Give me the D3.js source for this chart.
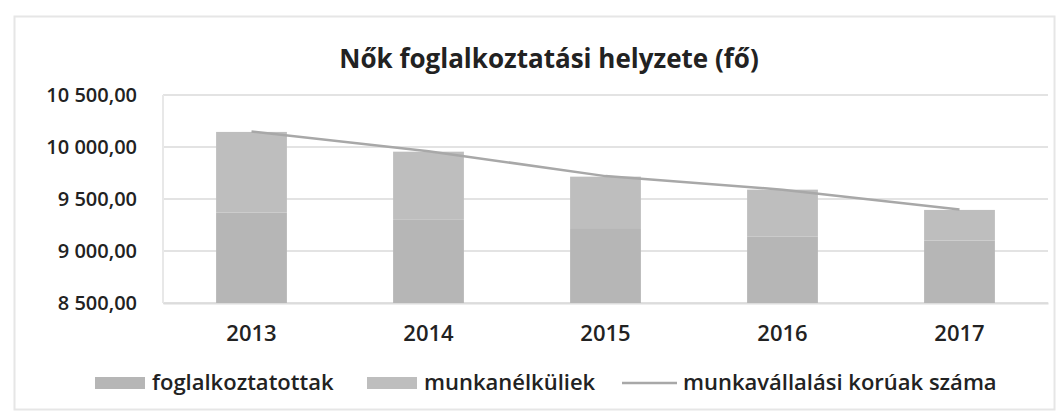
<!DOCTYPE html>
<html>
<head>
<meta charset="utf-8">
<script src="https://cdn.jsdelivr.net/npm/d3@7"></script>
<style>
  html, body { margin: 0; padding: 0; background: #fff; }
  svg { display: block; font-family: "Open Sans", "Noto Sans", sans-serif; }
</style>
</head>
<body>
<svg id="chart" width="1063" height="419"></svg>
<script>
// Adatok
const evek = ['2013', '2014', '2015', '2016', '2017'];
const foglalkoztatottak = [9370, 9300, 9220, 9140, 9100];
const munkanelkuliek = [775, 655, 495, 450, 295];
const munkavallalasiKoruak = [10150, 9960, 9720, 9590, 9400];
const yTicks = [8500, 9000, 9500, 10000, 10500];

const szinek = {
    foglalkoztatottak: '#b6b6b6',
    munkanelkuliek: '#bebebe',
    vonal: '#a8a8a8'
};

const svg = d3.select('#chart');
const margin = { top: 95, right: 15, bottom: 116, left: 163 };
const width = 1063 - margin.left - margin.right;
const height = 419 - margin.top - margin.bottom;

// Keret
svg.append('rect')
    .attr('x', 14.5).attr('y', 16.5)
    .attr('width', 1040).attr('height', 393)
    .attr('fill', 'none')
    .attr('stroke', '#e6e6e6')
    .attr('stroke-width', 2);

// Cim
svg.append('text')
    .attr('x', 549)
    .attr('y', 68)
    .attr('text-anchor', 'middle')
    .style('font-size', '26px')
    .style('font-weight', '700')
    .style('fill', '#222')
    .text('Nők foglalkoztatási helyzete (fő)');

const g = svg.append('g')
    .attr('transform', `translate(${margin.left},${margin.top})`);

const hu = d3.formatLocale({ decimal: ',', thousands: '\u00a0', grouping: [3], currency: ['', ' Ft'] });
const fmt = hu.format(',.2f');

const x = d3.scaleBand().domain(evek).range([0, width]).paddingInner(0.6).paddingOuter(0.3);
const y = d3.scaleLinear().domain([8500, 10500]).range([height, 0]);

// Racsvonalak
g.append('g')
    .selectAll('line')
    .data(yTicks)
    .enter()
    .append('line')
    .attr('x1', 0).attr('x2', width)
    .attr('y1', d => y(d)).attr('y2', d => y(d))
    .attr('stroke', '#e3e3e3')
    .attr('stroke-width', 2);

// Y tengely
const yAxis = g.append('g')
    .call(d3.axisLeft(y).tickValues(yTicks).tickFormat(fmt).tickSize(0).tickPadding(26));
yAxis.attr('font-family', null);
yAxis.select('.domain').remove();
yAxis.selectAll('text')
    .style('font-size', '20px')
    .style('font-weight', '600')
    .style('fill', '#222');

g.append('line')
    .attr('x1', 0).attr('x2', 0)
    .attr('y1', 0).attr('y2', height)
    .attr('stroke', '#e8e8e8').attr('stroke-width', 2);

// X tengely
const xAxis = g.append('g')
    .attr('transform', `translate(0,${height})`)
    .call(d3.axisBottom(x).tickSize(0).tickPadding(22));
xAxis.attr('font-family', null);
xAxis.select('.domain').attr('stroke', '#dcdcdc').attr('stroke-width', 2);
xAxis.selectAll('text')
    .style('font-size', '22px')
    .style('font-weight', '600')
    .style('fill', '#222');

// Halmozott oszlopok
const stackData = evek.map((ev, i) => ({
    ev: ev,
    foglalkoztatottak: foglalkoztatottak[i],
    munkanelkuliek: munkanelkuliek[i]
}));
const series = d3.stack().keys(['foglalkoztatottak', 'munkanelkuliek'])(stackData);

g.selectAll('.serie')
    .data(series)
    .enter()
    .append('g')
    .attr('fill', d => szinek[d.key])
    .selectAll('rect')
    .data(d => d)
    .enter()
    .append('rect')
    .attr('x', d => x(d.data.ev))
    .attr('width', x.bandwidth())
    .attr('y', d => y(Math.min(d[1], 10500)))
    .attr('height', d => y(Math.max(d[0], 8500)) - y(Math.min(d[1], 10500)));

// Vonal
const line = d3.line()
    .x((d, i) => x(evek[i]) + x.bandwidth() / 2)
    .y(d => y(d));

g.append('path')
    .datum(munkavallalasiKoruak)
    .attr('fill', 'none')
    .attr('stroke', szinek.vonal)
    .attr('stroke-width', 2.5)
    .attr('d', line);

// Jelmagyarazat
const legend = svg.append('g').attr('transform', 'translate(0,383)');
const items = [
    { tipus: 'rect', szin: szinek.foglalkoztatottak, cimke: 'foglalkoztatottak', x: 95 },
    { tipus: 'rect', szin: szinek.munkanelkuliek, cimke: 'munkanélküliek', x: 367 },
    { tipus: 'line', szin: szinek.vonal, cimke: 'munkavállalási korúak száma', x: 622 }
];
items.forEach(it => {
    if (it.tipus === 'rect') {
        legend.append('rect')
            .attr('x', it.x).attr('y', -6)
            .attr('width', 50).attr('height', 12)
            .attr('fill', it.szin);
    } else {
        legend.append('line')
            .attr('x1', it.x).attr('x2', it.x + 55)
            .attr('y1', 0).attr('y2', 0)
            .attr('stroke', it.szin).attr('stroke-width', 2.5);
    }
    legend.append('text')
        .attr('x', it.x + (it.tipus === 'rect' ? 57 : 61))
        .attr('y', 7)
        .style('font-size', '22px')
        .style('font-weight', '600')
        .style('fill', '#222')
        .text(it.cimke);
});
</script>
</body>
</html>
